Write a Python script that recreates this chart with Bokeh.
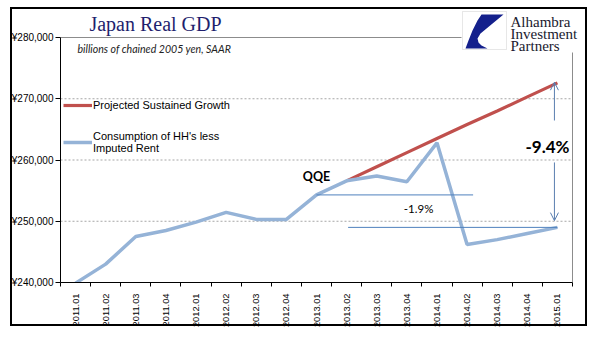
import math
from bokeh.plotting import figure
from bokeh.models import (Range1d, FixedTicker, Legend, LegendItem, Label, BoxAnnotation,
                          PolyAnnotation, Arrow, OpenHead)
from bokeh.embed import file_html
from bokeh.resources import INLINE

# ---------------- data ----------------
quarters = ["2011.01", "2011.02", "2011.03", "2011.04",
            "2012.01", "2012.02", "2012.03", "2012.04",
            "2013.01", "2013.02", "2013.03", "2013.04",
            "2014.01", "2014.02", "2014.03", "2014.04",
            "2015.01"]
consumption = [239900, 243000, 247500, 248500,
               249850, 251450, 250300, 250300,
               254300, 256600, 257400, 256450,
               262800, 246200, 247000, 248000,
               249000]
projected_quarters = quarters[9:]
projected = [256600, 258900, 261200, 263500, 265800, 268000, 270300, 272600, 274900]

y_ticks = [240000, 250000, 260000, 270000, 280000]
y_tick_labels = ["¥240,000", "¥250,000", "¥260,000", "¥270,000", "¥280,000"]

series_names = ["Projected Sustained Growth", "Consumption of HH's less\nImputed Rent"]
title_text = "Japan Real GDP"
subtitle_text = "billions of chained 2005 yen, SAAR"
logo_lines = ["Alhambra", "Investment", "Partners"]

# ---------------- layout constants (page pixels) ----------------
FR_L, FR_R, FR_T, FR_B = 60, 572, 37, 282   # plot area of the original chart

idx = {q: i for i, q in enumerate(quarters)}
cons_x = [idx[q] for q in quarters]
proj_x = [idx[q] for q in projected_quarters]

RED = "#C0504D"
BLUE = "#95B3D7"
ABLUE = "#4F81BD"
SANS = "Liberation Sans"
CAL = "Lato"

x_lo, x_hi = -0.5, len(quarters) - 0.5
y_lo, y_hi = y_ticks[0], y_ticks[-1]
px_per_x = (FR_R - FR_L) / (x_hi - x_lo)
px_per_y = (FR_B - FR_T) / (y_hi - y_lo)
# the frame is stretched to the top/right canvas edges so that header and logo live inside it
x_end = x_hi + (600 - FR_R) / px_per_x
y_end = y_hi + FR_T / px_per_y

# outer black border of the chart object, painted as CSS background behind a transparent canvas
border_css = ", ".join([
    "linear-gradient(#000,#000) 10px 7px / 577px 2px no-repeat",
    "linear-gradient(#000,#000) 10px 324px / 577px 2px no-repeat",
    "linear-gradient(#000,#000) 10px 7px / 2px 319px no-repeat",
    "linear-gradient(#000,#000) 585px 7px / 2px 319px no-repeat",
])

p = figure(width=600, height=341, output_backend="svg", toolbar_location=None,
           title="",
           x_range=Range1d(x_lo, x_end), y_range=Range1d(y_lo, y_end),
           min_border_left=FR_L, min_border_right=0, min_border_top=0,
           min_border_bottom=341 - FR_B,
           styles={"background": border_css, "background-color": "white"})
p.outline_line_color = None
p.background_fill_alpha = 0
p.border_fill_alpha = 0

# x axis: labels at category centres, ticks at boundaries
p.xaxis.ticker = FixedTicker(ticks=cons_x, minor_ticks=[i - 0.5 for i in range(len(quarters) + 1)])
p.xaxis.major_label_overrides = {i: q for i, q in enumerate(quarters)}
p.xaxis.major_label_orientation = math.pi / 2
p.xaxis.bounds = (x_lo, x_hi)
p.xaxis.major_tick_line_color = None
p.xaxis.major_tick_out = 0
p.xaxis.major_tick_in = 0
p.xaxis.minor_tick_line_color = "black"
p.xaxis.minor_tick_out = 4
p.xaxis.minor_tick_in = 0
p.xaxis.axis_line_color = "black"
p.xaxis.major_label_text_font = SANS
p.xaxis.major_label_text_font_size = "9.3px"
p.xaxis.major_label_text_color = "black"
p.xaxis.major_label_standoff = 7

p.yaxis.ticker = FixedTicker(ticks=y_ticks, minor_ticks=[])
p.yaxis.major_label_overrides = dict(zip(y_ticks, y_tick_labels))
p.yaxis.bounds = (y_lo, y_hi)
p.yaxis.major_tick_out = 5
p.yaxis.major_tick_in = 0
p.yaxis.major_tick_line_color = "black"
p.yaxis.axis_line_color = "black"
p.yaxis.major_label_text_font = SANS
p.yaxis.major_label_text_font_size = "10px"
p.yaxis.major_label_text_color = "black"
p.yaxis.major_label_standoff = 2

p.grid.grid_line_color = None

# dashed gridlines limited to the plot area
grid_y = y_ticks[1:-1]
p.segment(x0=[x_lo] * len(grid_y), x1=[x_hi] * len(grid_y), y0=grid_y, y1=grid_y,
          line_color="#a6a6a6", line_dash="2 2", line_width=1, level="underlay")

# plot-area top line (stops at the logo) and right border (starts below the logo)
logo_left_x = x_lo + (461 - FR_L) / px_per_x
right_top_y = y_hi - (52 - FR_T) / px_per_y
p.segment(x0=[x_lo, x_hi], x1=[logo_left_x, x_hi], y0=[y_hi, right_top_y], y1=[y_hi, y_lo],
          line_color="#8c8c8c", line_width=1, level="underlay")

# ---------------- series ----------------
r_proj = p.line(proj_x, projected, line_color=RED, line_width=3.2)
r_cons = p.line(cons_x, consumption, line_color=BLUE, line_width=3.5)

legend = Legend(items=[LegendItem(label=series_names[0], renderers=[r_proj]),
                       LegendItem(label=series_names[1], renderers=[r_cons])],
                location=(3, 128), glyph_width=29, glyph_height=12, label_standoff=1,
                spacing=19, padding=0, margin=0, background_fill_alpha=0,
                border_line_color=None, label_text_font=SANS,
                label_text_font_size="11px", label_text_color="black",
                label_text_line_height=1.1)
p.add_layout(legend)

# ---------------- annotations ----------------
i13 = idx["2013.01"]
i15 = idx["2015.01"]
p.line([i13, 13.2], [consumption[i13], consumption[i13]], line_color=ABLUE, line_width=1)
p.line([9.05, i15], [consumption[i15], consumption[i15]], line_color=ABLUE, line_width=1)

ax = 15.9
p.add_layout(Arrow(x_start=ax, y_start=266450, x_end=ax, y_end=272700,
                   line_color="#5A7FB0", line_width=1,
                   end=OpenHead(size=8, line_color="#5A7FB0", line_width=1)))
p.add_layout(Arrow(x_start=ax, y_start=259600, x_end=ax, y_end=250100,
                   line_color="#5A7FB0", line_width=1,
                   end=OpenHead(size=8, line_color="#5A7FB0", line_width=1)))

p.add_layout(Label(x=15.67, y=262200, text="-9.4%", text_font=CAL, text_font_size="17px",
                   text_font_style="bold", text_align="center", text_baseline="middle",
                   text_color="black"))
p.add_layout(Label(x=i13, y=257300, text="QQE", text_font=CAL, text_font_size="12.5px",
                   text_font_style="bold", text_align="center", text_baseline="middle",
                   text_color="black"))
p.add_layout(Label(x=11.39, y=252050, text="-1.9%", text_font=CAL, text_font_size="11.5px",
                   text_align="center", text_baseline="middle", text_color="black"))

# ---------------- title / subtitle (canvas units) ----------------
p.add_layout(Label(x=155, y=23, x_units="canvas", y_units="canvas", text=title_text,
                   text_font="Liberation Serif", text_font_size="20px",
                   text_color="#1F1F6E", text_align="center", text_baseline="middle"))
p.add_layout(Label(x=77, y=48, x_units="canvas", y_units="canvas", text=subtitle_text,
                   text_font=CAL, text_font_size="10.6px", text_font_style="italic",
                   text_color="#222222", text_align="left", text_baseline="middle"))

# ---------------- logo ----------------
p.add_layout(BoxAnnotation(left=462, right=506, top=11, bottom=49,
                           left_units="canvas", right_units="canvas",
                           top_units="canvas", bottom_units="canvas",
                           fill_color="white", fill_alpha=1, line_color="#b0b0b0", line_width=1))
logo_xs = [481, 503, 480, 477, 478, 481, 487, 465, 468, 472, 477]
logo_ys = [14, 14, 33, 38, 42, 45, 48, 48, 40, 30, 20]
p.add_layout(PolyAnnotation(xs=logo_xs, ys=logo_ys, xs_units="canvas", ys_units="canvas",
                            fill_color="#14208C", fill_alpha=1, line_color=None))
for k, t in enumerate(logo_lines):
    p.add_layout(Label(x=510, y=21 + 12 * k, x_units="canvas", y_units="canvas", text=t,
                       text_font="Liberation Serif", text_font_size="15px",
                       text_color="#1a1a2e", text_align="left", text_baseline="middle"))

open("out.html", "w").write(file_html(p, INLINE))
